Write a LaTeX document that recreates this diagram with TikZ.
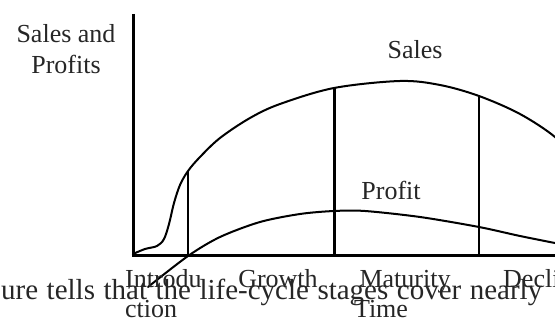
\documentclass[tikz,border=0pt]{standalone}
\usepackage{fontspec}
\setmainfont{Liberation Serif}
\begin{document}
\begin{tikzpicture}[x=1pt,y=-1pt,
 lbl/.style={inner sep=0pt,text=black!85,font=\fontsize{26}{30}\selectfont},
 curve/.style={line width=2pt,line cap=round}]
 \useasboundingbox (0,0) rectangle (555,320);
 \clip (0,0) rectangle (555,320);
 \draw[line width=3pt](133,14)--(133,257.5);
 \draw[line width=3pt](131.5,256)--(555,256);
 \draw[curve] plot[smooth,tension=0.55] coordinates {(133,254) (145,249) (157,246) (164,239) (169,224) (174,203) (180,185) (188,171) (200,157) (220,138) (250,118) (280,104) (334,88) (400,81) (440,85) (479,96) (520,114) (555,137) (575,160)};
 \draw[curve] plot[smooth,tension=0.5] coordinates {(148,287) (188,256) (220,237) (260,222) (300,214) (334,211) (365,211) (420,217) (479,227) (520,236) (565,245)};
 \draw[line width=1.5pt](188,171)--(188,256);
 \draw[line width=3pt](334,88)--(334,256);
 \draw[line width=2pt](479,96)--(479,256);
 \node[lbl,anchor=base] (ylbl) at (66,43) {Sales and};
 \node[lbl,anchor=base] (ylbl2) at (66,74) {Profits};
 \node[lbl,anchor=base] (sales) at (415,59) {Sales};
 \node[lbl,anchor=base] (profit) at (391,200) {Profit};
 \node[lbl,anchor=base west] (intro) at (125,288) {Introdu};
 \node[lbl,anchor=base west] (intro2) at (125,318) {ction};
 \node[lbl,anchor=base] (growth) at (278,288) {Growth};
 \node[lbl,anchor=base] (maturity) at (405,288) {Maturity};
 \node[lbl,anchor=base west] (decline) at (503,288) {Decline};
 \node[lbl,anchor=base] (time) at (381,318) {Time};
 \node[inner sep=0pt,anchor=base west,text=black!85,font=\fontsize{29}{34}\selectfont] (body) at (1,300) {\makebox[541pt][s]{ure tells that the life-cycle stages cover nearly}};
\end{tikzpicture}
\end{document}
